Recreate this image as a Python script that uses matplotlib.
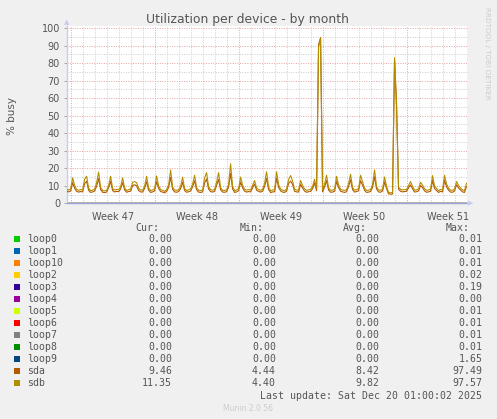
import numpy as np
import matplotlib
matplotlib.use("Agg")
import matplotlib.pyplot as plt
from matplotlib.patches import Rectangle

# data, 4-hour steps, day 0 = Mon Nov 17 2025 00:00, first point Nov 16 16:00
t_start = -1 / 3.0
t_step = 1 / 6.0

sdb = [8.0, 7.6,
       8.2, 14.5, 10.1, 7.9, 7.4, 7.8,
       7.6, 13.7, 15.4, 8.6, 7.2, 7.5,
       8.1, 11.7, 17.8, 9.0, 7.3, 7.1,
       7.4, 10.2, 15.4, 8.4, 7.6, 7.9,
       7.7, 9.5, 14.5, 8.8, 7.3, 7.8,
       8.0, 12.0, 12.4, 11.8, 8.5, 7.6,
       7.5, 9.8, 15.4, 8.7, 7.2, 7.6,
       8.3, 15.6, 9.9, 7.8, 7.5, 6.8,
       7.9, 10.5, 19.0, 9.2, 7.6, 7.4,
       7.8, 9.6, 14.9, 8.5, 7.3, 7.7,
       8.2, 11.0, 16.0, 8.9, 7.5, 7.2,
       7.6, 14.5, 17.5, 9.4, 7.8, 7.5,
       7.9, 12.1, 17.5, 9.0, 7.4, 7.3,
       7.7, 10.8, 22.5, 9.6, 7.2, 7.6,
       8.4, 15.0, 10.3, 8.1, 7.5, 7.8,
       7.6, 10.2, 13.0, 8.7, 7.9, 7.4,
       8.0, 11.3, 18.0, 9.2, 7.1, 7.6,
       7.7, 18.0, 10.6, 8.3, 7.5, 7.2,
       8.1, 13.5, 15.8, 12.8, 8.0, 7.6,
       7.5, 13.0, 10.1, 8.2, 7.4, 7.7,
       7.9, 9.6, 13.7, 8.4, 89.0, 94.0,
       7.6, 10.9, 16.0, 8.8, 7.4, 7.5,
       8.0, 15.4, 10.5, 8.0, 7.6, 7.3,
       7.7, 11.2, 16.6, 9.1, 7.5, 7.8,
       8.3, 16.0, 12.4, 8.6, 7.3, 7.5,
       7.8, 10.7, 19.0, 9.5, 7.6, 7.4,
       8.1, 15.0, 9.8, 6.2, 6.0, 6.1,
       83.0, 55.0, 9.2, 8.0, 7.6, 7.8,
       7.9, 10.2, 12.4, 9.6, 7.5, 7.7,
       8.2, 12.0, 10.4, 8.3, 7.4, 7.6,
       8.0, 15.8, 9.9, 8.5, 7.2, 7.9,
       7.6, 16.0, 11.0, 8.7, 7.5, 7.4,
       8.1, 12.4, 10.2, 8.8, 7.6, 7.3,
       11.4]

sda = [6.9, 6.5,
       7.0, 11.8, 8.6, 6.8, 6.4, 6.7,
       6.5, 11.2, 12.6, 7.4, 6.2, 6.5,
       7.0, 9.8, 14.1, 7.8, 6.3, 6.1,
       6.4, 8.9, 12.5, 7.2, 6.5, 6.8,
       6.6, 8.2, 11.7, 7.6, 6.3, 6.7,
       6.9, 10.1, 10.6, 9.9, 7.3, 6.5,
       6.4, 8.5, 12.3, 7.5, 6.2, 6.5,
       7.1, 12.4, 8.5, 6.7, 6.4, 5.9,
       6.8, 9.0, 14.8, 7.9, 6.5, 6.3,
       6.7, 8.3, 12.0, 7.3, 6.3, 6.6,
       7.0, 9.4, 12.8, 7.7, 6.4, 6.2,
       6.5, 11.6, 13.9, 8.1, 6.7, 6.4,
       6.8, 10.2, 13.6, 7.7, 6.4, 6.3,
       6.6, 9.2, 17.0, 8.2, 6.2, 6.5,
       7.2, 12.1, 8.8, 6.9, 6.4, 6.7,
       6.5, 8.8, 10.9, 7.5, 6.8, 6.4,
       6.9, 9.6, 14.2, 7.9, 6.1, 6.5,
       6.6, 14.3, 9.1, 7.1, 6.4, 6.2,
       7.0, 11.3, 12.7, 10.8, 6.9, 6.5,
       6.4, 10.8, 8.7, 7.0, 6.3, 6.6,
       6.8, 8.3, 11.5, 7.2, 90.5, 94.5,
       6.5, 9.3, 12.9, 7.6, 6.3, 6.4,
       6.9, 12.6, 9.0, 6.9, 6.5, 6.2,
       6.6, 9.6, 13.4, 7.8, 6.4, 6.7,
       7.1, 12.9, 10.4, 7.4, 6.2, 6.4,
       6.7, 9.1, 15.1, 8.2, 6.5, 6.3,
       7.0, 12.2, 8.4, 5.4, 5.2, 5.3,
       81.5, 57.0, 8.0, 6.9, 6.5, 6.7,
       6.8, 8.8, 10.5, 8.3, 6.4, 6.6,
       7.1, 10.2, 8.9, 7.1, 6.3, 6.5,
       6.9, 12.9, 8.5, 7.3, 6.2, 6.8,
       6.5, 13.1, 9.4, 7.5, 6.4, 6.3,
       7.0, 10.6, 8.8, 7.6, 6.5, 6.2,
       9.5]

names = ["loop0", "loop1", "loop10", "loop2", "loop3", "loop4", "loop5",
         "loop6", "loop7", "loop8", "loop9", "sda", "sdb"]
colors = ["#00CC00", "#0066B3", "#FF8000", "#FFCC00", "#330099", "#990099",
          "#CCFF00", "#FF0000", "#808080", "#008F00", "#00487D", "#B35A00",
          "#B38F00"]
cur = ["0.00"] * 11 + ["9.46", "11.35"]
mins = ["0.00"] * 11 + ["4.44", "4.40"]
avgs = ["0.00"] * 11 + ["8.42", "9.82"]
maxs = ["0.01", "0.01", "0.01", "0.02", "0.19", "0.00", "0.01", "0.01",
        "0.01", "0.01", "1.65", "97.49", "97.57"]
loop_level = 0.0

week_labels = ["Week 47", "Week 48", "Week 49", "Week 50", "Week 51"]
week_starts = [0, 7, 14, 21, 28]

W, H = 497, 419
fig = plt.figure(figsize=(W / 100, H / 100), dpi=100, facecolor="#f0f0f0")

# plot box in pixels
px_l, px_r, px_t, px_b = 67, 467, 26, 203.3
ax = fig.add_axes([px_l / W, 1 - px_b / H, (px_r - px_l) / W, (px_b - px_t) / H])
ax.set_facecolor("white")

t = t_start + t_step * np.arange(len(sdb))
ax.set_xlim(t_start + 0.03, t[-1] + 0.04)
ax.set_ylim(0, 100 * (px_b - px_t) / (px_b - 28))

# grid
grey = "#cccccc"
red = "#e8a0a0"
for d in range(0, 34):
    if d not in week_starts:
        ax.axvline(d, color=grey, lw=0.7, ls=(0, (1, 1.5)), zorder=0)
for v in range(5, 101, 10):
    ax.axhline(v, color=grey, lw=0.7, ls=(0, (1, 1.5)), zorder=0)
for d in week_starts:
    ax.axvline(d, color=red, lw=0.7, ls=(0, (1, 1.5)), zorder=0)
for v in range(10, 101, 10):
    ax.axhline(v, color=red, lw=0.7, ls=(0, (1, 1.5)), zorder=0)

# series (loops are flat at zero)
for c in colors[:11]:
    ax.plot([t[0], t[-1]], [loop_level, loop_level], color=c, lw=0.8, zorder=2)
ax.plot(t, sda, color=colors[11], lw=0.8, zorder=3)
ax.plot(t, sdb, color=colors[12], lw=0.8, zorder=4)

for s in ["top", "right"]:
    ax.spines[s].set_visible(False)
ax.spines["left"].set_color("#c8ccf0")
ax.spines["bottom"].set_color("#9aa4d8")
ax.spines["left"].set_linewidth(1.0)
ax.spines["bottom"].set_linewidth(1.0)
ax.spines["bottom"].set_zorder(5)

ax.set_yticks(range(0, 101, 10))
ax.set_yticklabels([str(v) for v in range(0, 101, 10)])
ax.set_xticks([w + 3.5 for w in week_starts])
ax.set_xticklabels(week_labels)
ax.tick_params(axis="x", length=0, pad=6, labelsize=7, labelcolor="#555555")
ax.tick_params(axis="y", length=2, width=0.6, color="#999999", pad=3,
               labelsize=7, labelcolor="#555555")

# arrows at axis ends
fig.text(66.5 / W, 1 - 22 / H, "\u25B2", ha="center", va="center", fontsize=5,
         color="#c8ccf0")
fig.text(471 / W, 1 - 203.3 / H, "\u25B6", ha="center", va="center", fontsize=5,
         color="#c8ccf0")

fig.text(248 / W, 1 - 19 / H, "Utilization per device - by month", ha="center",
         va="center", fontsize=8.9, color="#555555")
fig.text(12 / W, 1 - 116 / H, "% busy", rotation=90, ha="center", va="center",
         fontsize=7.5, color="#555555")
fig.text(487 / W, 1 - 53 / H, "RRDTOOL / TOBI OETIKER", rotation=270,
         ha="center", va="center", fontsize=5.2, color="#cccccc")

# legend table
mono = dict(family="DejaVu Sans Mono", fontsize=7.1, color="#555555", va="center")
hy = 227.7
fig.text(159.5 / W, 1 - hy / H, "Cur:", ha="right", **mono)
fig.text(263.5 / W, 1 - hy / H, "Min:", ha="right", **mono)
fig.text(367 / W, 1 - hy / H, "Avg:", ha="right", **mono)
fig.text(470 / W, 1 - hy / H, "Max:", ha="right", **mono)

for i, n in enumerate(names):
    y = 239.3 + 12 * i
    fig.add_artist(Rectangle((14 / W, 1 - (y + 3) / H), 6 / W, 6 / H,
                             transform=fig.transFigure, color=colors[i], lw=0))
    fig.text(26.7 / W, 1 - y / H, n, ha="left", **mono)
    fig.text(172 / W, 1 - y / H, cur[i], ha="right", **mono)
    fig.text(276 / W, 1 - y / H, mins[i], ha="right", **mono)
    fig.text(379.5 / W, 1 - y / H, avgs[i], ha="right", **mono)
    fig.text(482.5 / W, 1 - y / H, maxs[i], ha="right", **mono)

fig.text(482.5 / W, 1 - 395.7 / H, "Last update: Sat Dec 20 01:00:02 2025",
         ha="right", **mono)
fig.text(248 / W, 1 - 408 / H, "Munin 2.0.56", ha="center", va="center",
         fontsize=5.5, color="#cccccc")

fig.savefig("out.png", dpi=100, facecolor=fig.get_facecolor())
